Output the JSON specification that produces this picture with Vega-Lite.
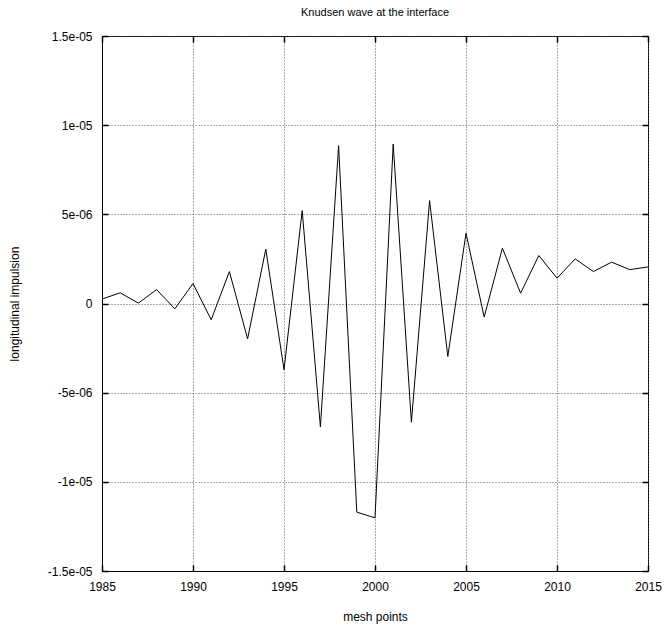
{
  "$schema": "https://vega.github.io/schema/vega-lite/v6.json",
  "autosize": "none",
  "width": 546,
  "height": 535,
  "padding": {"left": 102, "top": 36, "right": 16, "bottom": 60},
  "background": "white",
  "title": {"text": "Knudsen wave at the interface", "font": "Liberation Sans", "fontSize": 11, "fontWeight": "normal", "color": "black", "offset": 12, "anchor": "middle"},
  "config": {
    "view": {"stroke": "black", "strokeWidth": 1},
    "axis": {"labelFont": "Liberation Sans", "titleFont": "Liberation Sans", "labelFontSize": 12, "titleFontSize": 12, "titleFontWeight": "normal", "labelColor": "black", "titleColor": "black", "domainColor": "black", "tickColor": "black", "tickWidth": 1.5, "gridColor": "#555", "gridDash": [1, 2], "gridWidth": 1}
  },
  "data": {"values": [
    {"x": 1985, "y": 0.25e-6}, {"x": 1986, "y": 0.6e-6}, {"x": 1987, "y": 0.02e-6}, {"x": 1988, "y": 0.78e-6},
    {"x": 1989, "y": -0.3e-6}, {"x": 1990, "y": 1.12e-6}, {"x": 1991, "y": -0.91e-6}, {"x": 1992, "y": 1.79e-6},
    {"x": 1993, "y": -1.98e-6}, {"x": 1994, "y": 3.05e-6}, {"x": 1995, "y": -3.71e-6}, {"x": 1996, "y": 5.21e-6},
    {"x": 1997, "y": -6.92e-6}, {"x": 1998, "y": 8.85e-6}, {"x": 1999, "y": -11.7e-6}, {"x": 2000, "y": -12.02e-6},
    {"x": 2001, "y": 8.94e-6}, {"x": 2002, "y": -6.66e-6}, {"x": 2003, "y": 5.77e-6}, {"x": 2004, "y": -2.97e-6},
    {"x": 2005, "y": 3.94e-6}, {"x": 2006, "y": -0.76e-6}, {"x": 2007, "y": 3.1e-6}, {"x": 2008, "y": 0.58e-6},
    {"x": 2009, "y": 2.69e-6}, {"x": 2010, "y": 1.42e-6}, {"x": 2011, "y": 2.5e-6}, {"x": 2012, "y": 1.79e-6},
    {"x": 2013, "y": 2.32e-6}, {"x": 2014, "y": 1.9e-6}, {"x": 2015, "y": 2.05e-6}
  ]},
  "layer": [
    {
      "mark": {"type": "line", "color": "black", "strokeWidth": 1, "clip": true},
      "encoding": {
        "x": {"field": "x", "type": "quantitative", "scale": {"domain": [1985, 2015], "nice": false, "zero": false},
          "axis": {"title": "mesh points", "values": [1985, 1990, 1995, 2000, 2005, 2010, 2015], "format": "d", "labelFlush": false, "ticks": false, "labelPadding": 10, "titlePadding": 19, "grid": true}},
        "y": {"field": "y", "type": "quantitative", "scale": {"domain": [-1.5e-5, 1.5e-5], "nice": false, "zero": false},
          "axis": {"title": "longitudinal impulsion", "values": [-1.5e-5, -1e-5, -5e-6, 0, 5e-6, 1e-5, 1.5e-5],
            "labelExpr": "datum.value == 0 ? '0' : replace(replace(format(datum.value, '~e'), 'e-', 'e-0'), '\u2212', '-')",
            "labelFlush": false, "ticks": false, "labelPadding": 10, "titlePadding": 26, "grid": true}}
      }
    },
    {
      "mark": {"type": "line", "opacity": 0},
      "encoding": {
        "x": {"field": "x", "type": "quantitative", "scale": {"domain": [1985, 2015], "nice": false, "zero": false},
          "axis": {"orient": "top", "offset": -6, "domain": false, "title": null, "labels": false, "values": [1985, 1990, 1995, 2000, 2005, 2010, 2015], "ticks": true, "tickSize": 6, "grid": false}},
        "y": {"field": "y", "type": "quantitative", "scale": {"domain": [-1.5e-5, 1.5e-5], "nice": false, "zero": false},
          "axis": {"orient": "right", "offset": -6, "domain": false, "title": null, "labels": false, "values": [-1.5e-5, -1e-5, -5e-6, 0, 5e-6, 1e-5, 1.5e-5], "ticks": true, "tickSize": 6, "grid": false}}
      }
    },
    {
      "mark": {"type": "line", "opacity": 0},
      "encoding": {
        "x": {"field": "x", "type": "quantitative", "scale": {"domain": [1985, 2015], "nice": false, "zero": false},
          "axis": {"orient": "bottom", "offset": -6, "domain": false, "title": null, "labels": false, "values": [1985, 1990, 1995, 2000, 2005, 2010, 2015], "ticks": true, "tickSize": 6, "grid": false}},
        "y": {"field": "y", "type": "quantitative", "scale": {"domain": [-1.5e-5, 1.5e-5], "nice": false, "zero": false},
          "axis": {"orient": "left", "offset": -6, "domain": false, "title": null, "labels": false, "values": [-1.5e-5, -1e-5, -5e-6, 0, 5e-6, 1e-5, 1.5e-5], "ticks": true, "tickSize": 6, "grid": false}}
      }
    }
  ],
  "resolve": {"axis": {"x": "independent", "y": "independent"}}
}
